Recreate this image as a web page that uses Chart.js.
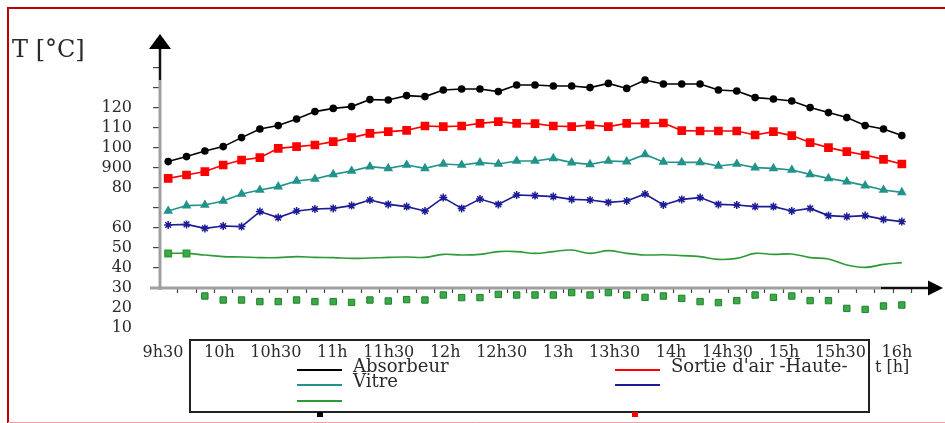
<!DOCTYPE html>
<html>
<head>
<meta charset="utf-8">
<script src="https://cdn.jsdelivr.net/npm/chart.js@4.4.1/dist/chart.umd.min.js"></script>
<style>
  html, body { margin: 0; padding: 0; background: #fff; }
  canvas { display: block; }
</style>
</head>
<body>
<canvas id="tempChart" width="945" height="423"></canvas>
<script>
// sample times (one point every ~10 min)
const times = ['9h30','9h40','9h50','10h','10h10','10h20','10h30','10h40','10h50','11h','11h10','11h20','11h30','11h40',
  '11h50','12h','12h10','12h20','12h30','12h40','12h50','13h','13h10','13h20','13h30','13h40','13h50','14h',
  '14h10','14h20','14h30','14h40','14h50','15h','15h10','15h20','15h30','15h40','15h50','16h','16h10'];
const hourLabels = ['9h30','10h','10h30','11h','11h30','12h','12h30','13h','13h30','14h','14h30','15h','15h30','16h'];
const yTickValues = [10, 20, 30, 40, 50, 60, 70, 80, 90, 100, 110, 120, 130, 140];
const yTickLabels = ['10','20','30','40','50','60','','80','900','100','110','120','',''];

const absorbeur = [93.2, 95.7, 98.5, 100.7, 105.2, 109.5, 111.2, 114.5, 118.2, 119.8, 120.7, 124.2, 124, 126.2,
  125.7, 129, 129.5, 129.5, 128.2, 131.5, 131.5, 131, 131, 130.2, 132.3, 129.8, 134, 132,
  132, 132, 129, 128.5, 125.2, 124.5, 123.5, 120.2, 117.7, 115.2, 111.2, 109.5, 106.2];
const sortieHaute = [84.8, 86.5, 88.2, 91.5, 94, 95.2, 99.8, 100.7, 101.5, 103.2, 105.2, 107.3, 108.2, 108.8,
  111, 110.7, 111, 112.3, 113.2, 112.3, 112.2, 111, 110.7, 111.5, 110.7, 112.3, 112.3, 112.5,
  108.7, 108.5, 108.5, 108.5, 106.5, 108.2, 106.2, 102.7, 100.2, 98.2, 96.5, 94.3, 92];
const vitre = [68.5, 71.2, 71.5, 73.5, 77, 79, 80.7, 83.5, 84.5, 86.8, 88.5, 90.7, 89.8, 91.5,
  89.8, 92, 91.5, 92.7, 92, 93.5, 93.5, 94.8, 92.7, 91.8, 93.5, 93.2, 96.8, 93,
  92.8, 92.8, 91, 92, 90.2, 89.8, 89, 86.8, 84.8, 83.2, 81.2, 79, 77.8];
const bleu = [61.5, 61.8, 59.8, 61, 60.7, 68.2, 65.2, 68.5, 69.5, 69.8, 71.2, 74, 71.8, 70.7,
  68.5, 75.2, 69.8, 74.5, 71.8, 76.5, 76.2, 75.7, 74.3, 74, 72.8, 73.5, 77, 71.5,
  74.3, 75.2, 71.8, 71.5, 70.7, 70.7, 68.5, 69.8, 66.2, 65.7, 66.2, 64.3, 63.2];
const vertLigne = [47.3, 47.3, 46.5, 45.7, 45.5, 45.2, 45.2, 45.7, 45.3, 45.2, 44.8, 45, 45.3, 45.5,
  45.3, 46.8, 46.5, 46.8, 48.2, 48.2, 47.3, 48.2, 49, 47.3, 48.7, 47.3, 46.5, 46.6,
  46.2, 45.7, 44.3, 44.8, 47.3, 46.8, 47, 45.2, 44.5, 41.5, 40.3, 41.8, 42.7];
const vertPoints = [null, null, 26, 24, 24, 23.2, 23.2, 24, 23.2, 23.2, 22.8, 24, 23.5, 24.2,
  24, 26.5, 25.2, 25.2, 26.8, 26.5, 26.5, 26.5, 27.7, 26.5, 27.7, 26.5, 25.3, 26,
  24.8, 23.2, 22.7, 23.7, 26.5, 25.3, 26, 23.7, 23.7, 19.8, 19.3, 21, 21.5];

const serif = "'DejaVu Serif', 'Liberation Serif', serif";
const textColor = '#2b2b2b';
const AXIS_AT = 30; // value where the time axis crosses

// frame, arrow axes, title and the boxed legend
const decor = {
  id: 'decor',
  beforeDraw(chart) {
    const ctx = chart.ctx;
    ctx.save();
    ctx.fillStyle = '#fff';
    ctx.fillRect(0, 0, chart.width, chart.height);
    ctx.strokeStyle = '#c00000';
    ctx.lineWidth = 2;
    ctx.beginPath();
    ctx.moveTo(8, 423); ctx.lineTo(8, 8); ctx.lineTo(945, 8);
    ctx.stroke();
    ctx.strokeStyle = '#f0a0a0';
    ctx.lineWidth = 1;
    ctx.beginPath(); ctx.moveTo(8, 422.5); ctx.lineTo(945, 422.5); ctx.stroke();
    ctx.restore();
  },
  beforeDatasetsDraw(chart) {
    const { ctx, chartArea: a, scales: { x, y } } = chart;
    const x0 = a.left + 1;
    const y0 = y.getPixelForValue(AXIS_AT);
    const top = y.getPixelForValue(y.max);
    ctx.save();
    // small ticks between samples, under the time axis
    const half = (x.getPixelForValue(1) - x.getPixelForValue(0)) / 2;
    ctx.strokeStyle = '#444';
    ctx.lineWidth = 1.2;
    ctx.beginPath();
    for (let i = 1; i <= times.length; i++) {
      const px = Math.round(x.getPixelForValue(i) - half) + 0.5;
      ctx.moveTo(px, y0); ctx.lineTo(px, y0 + 5);
    }
    ctx.stroke();

    ctx.strokeStyle = '#a0a0a0'; ctx.lineWidth = 3;
    ctx.beginPath(); ctx.moveTo(x0, y0 + 2); ctx.lineTo(x0, top + 46); ctx.stroke();
    ctx.strokeStyle = '#111'; ctx.lineWidth = 2.5;
    ctx.beginPath(); ctx.moveTo(x0, top + 46); ctx.lineTo(x0, top + 14); ctx.stroke();
    ctx.fillStyle = '#000';
    ctx.beginPath(); ctx.moveTo(x0, top); ctx.lineTo(x0 - 11, top + 15); ctx.lineTo(x0 + 11, top + 15); ctx.closePath(); ctx.fill();

    const xEnd = a.right + 32;
    ctx.strokeStyle = '#a0a0a0'; ctx.lineWidth = 3;
    ctx.beginPath(); ctx.moveTo(a.left - 9, y0); ctx.lineTo(a.right - 30, y0); ctx.stroke();
    ctx.strokeStyle = '#111'; ctx.lineWidth = 2.5;
    ctx.beginPath(); ctx.moveTo(a.right - 30, y0); ctx.lineTo(xEnd - 14, y0); ctx.stroke();
    ctx.beginPath(); ctx.moveTo(xEnd, y0); ctx.lineTo(xEnd - 15, y0 - 7.5); ctx.lineTo(xEnd - 15, y0 + 7.5); ctx.closePath(); ctx.fill();
    ctx.restore();
  },
  afterDraw(chart) {
    const ctx = chart.ctx;
    const ds = chart.data.datasets;
    ctx.save();
    ctx.fillStyle = textColor;
    ctx.textBaseline = 'middle';
    ctx.textAlign = 'left';
    ctx.font = '24px ' + serif;
    ctx.fillText('T [°C]', 12, 51);
    ctx.font = '16px ' + serif;
    ctx.fillText('t [h]', 875, 368);

    ctx.strokeStyle = '#222';
    ctx.lineWidth = 2;
    ctx.strokeRect(190, 340, 679, 72);

    const slots = [
      { i: 0, x: 297, y: 370 }, { i: 2, x: 297, y: 385 }, { i: 4, x: 297, y: 401 },
      { i: 1, x: 615, y: 370 }, { i: 3, x: 615, y: 385 }
    ];
    ctx.font = '18px ' + serif;
    slots.forEach(s => {
      ctx.strokeStyle = ds[s.i].borderColor;
      ctx.lineWidth = 2;
      ctx.beginPath(); ctx.moveTo(s.x, s.y); ctx.lineTo(s.x + 45, s.y); ctx.stroke();
      if (ds[s.i].label) {
        ctx.fillStyle = textColor;
        ctx.fillText(ds[s.i].label, s.x + 56, s.y - 3);
      }
    });
    // markers of the hidden third row peeking under the box
    ctx.fillStyle = ds[0].borderColor;
    ctx.fillRect(317, 412, 6, 5);
    ctx.fillStyle = ds[1].borderColor;
    ctx.fillRect(632, 412, 6, 5);
    ctx.restore();
  }
};

new Chart(document.getElementById('tempChart'), {
  type: 'line',
  data: {
    labels: times,
    datasets: [
      { label: 'Absorbeur', data: absorbeur, borderColor: '#000000', backgroundColor: '#000000',
        borderWidth: 1.6, pointStyle: 'circle', pointRadius: 3 },
      { label: "Sortie d'air -Haute-", data: sortieHaute, borderColor: '#ff0000', backgroundColor: '#ff0000',
        borderWidth: 1.6, pointStyle: 'rect', pointRadius: 5 },
      { label: 'Vitre', data: vitre, borderColor: '#22938a', backgroundColor: '#22938a',
        borderWidth: 1.6, pointStyle: 'triangle', pointRadius: 4 },
      { label: '', data: bleu, borderColor: '#1c1c96', backgroundColor: '#1c1c96',
        borderWidth: 1.6, pointStyle: 'star', pointRadius: 4, pointBorderWidth: 1.5 },
      { label: '', data: vertLigne, borderColor: '#2e9a36', backgroundColor: '#3aa948',
        borderWidth: 1.6, tension: 0.4, pointStyle: 'rect',
        pointRadius: c => (c.dataIndex < 2 ? 4.5 : 0) },
      { label: '', data: vertPoints, showLine: false,
        borderColor: '#1f7f2a', backgroundColor: '#3aa948',
        pointStyle: 'rect', pointRadius: 4.5, pointBorderWidth: 1 }
    ]
  },
  options: {
    responsive: false,
    animation: false,
    layout: { padding: { left: 0, right: 34, top: 34, bottom: 0 } },
    plugins: { legend: { display: false }, tooltip: { enabled: false } },
    scales: {
      x: {
        type: 'category',
        offset: true,
        display: false
      },
      xl: {
        type: 'linear',
        position: 'bottom',
        min: -0.07,
        max: 13.25,
        afterBuildTicks: s => { s.ticks = hourLabels.map((_, i) => ({ value: i })); },
        grid: { display: false, drawTicks: false },
        border: { display: false },
        ticks: {
          autoSkip: false, maxRotation: 0, padding: 25, color: textColor,
          font: { family: serif, size: 16 },
          callback: v => hourLabels[v]
        },
        afterFit: s => { s.height = 105; }
      },
      y: {
        min: 15,
        max: 157,
        afterBuildTicks: s => { s.ticks = yTickValues.map(v => ({ value: v })); },
        afterFit: s => { s.width = 159; },
        grid: {
          drawOnChartArea: false, tickLength: 6, lineWidth: 1.2,
          color: c => (c.tick && c.tick.value < AXIS_AT ? 'rgba(0,0,0,0)' : '#444')
        },
        border: { display: false },
        ticks: {
          autoSkip: false, padding: 21, color: textColor,
          font: { family: serif, size: 16 },
          callback: v => yTickLabels[yTickValues.indexOf(v)]
        }
      }
    }
  },
  plugins: [decor]
});
</script>
</body>
</html>
